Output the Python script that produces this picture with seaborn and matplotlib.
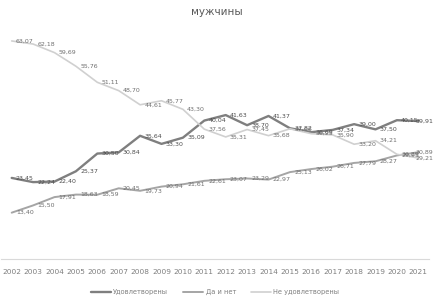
import matplotlib
matplotlib.use("Agg")
import matplotlib.pyplot as plt
import matplotlib.transforms as mtransforms
import seaborn as sns
import pandas as pd

years = [str(y) for y in range(2002, 2022)]
satisfied = [23.45, 22.24, 22.40, 25.37, 30.50, 30.84, 35.64, 33.30, 35.09, 40.04,
             41.63, 38.70, 41.37, 37.82, 36.69, 37.34, 39.00, 37.50, 40.15, 39.91]
mixed = [13.40, 15.50, 17.91, 18.63, 18.59, 20.45, 19.73, 20.94, 21.61, 22.61,
         23.07, 23.29, 22.97, 25.13, 26.02, 26.71, 27.79, 28.27, 29.95, 30.89]
unsatisfied = [63.07, 62.18, 59.69, 55.76, 51.11, 48.70, 44.61, 45.77, 43.30, 37.56,
               35.31, 37.45, 35.68, 37.66, 36.25, 35.90, 33.20, 34.21, 30.29, 29.21]
series_names = ["Удовлетворены", "Да и нет", "Не удовлетворены"]
title = "мужчины"

sns.set_theme(style="white")
plt.rcParams['font.family'] = ['DejaVu Sans']

rows = []
for name, vals in zip(series_names, [satisfied, mixed, unsatisfied]):
    for i, v in enumerate(vals):
        rows.append({"x": i, "year": years[i], "value": v, "series": name})
df = pd.DataFrame(rows)

colors = {"Удовлетворены": "#7f7f7f", "Да и нет": "#a5a5a5", "Не удовлетворены": "#d0d0d0"}
widths = {"Удовлетворены": 1.7, "Да и нет": 1.4, "Не удовлетворены": 1.2}
label_colors = {"Удовлетворены": "#4d4d4d", "Да и нет": "#6f6f6f", "Не удовлетворены": "#6f6f6f"}

fig = plt.figure(figsize=(4.34, 2.99), dpi=100)
ax = fig.add_axes([1/434, 1 - 259/299, 428/434, (259 - 17)/299])
edge_tr = mtransforms.blended_transform_factory(fig.transFigure, ax.transData)

for name in series_names:
    sub = df[df.series == name]
    sns.lineplot(data=sub, x="x", y="value", ax=ax, color=colors[name],
                 linewidth=widths[name], label=name)
    for _, r in sub.iterrows():
        txt = f"{r.value:.2f}".replace(".", ",")
        if r.x == 19:
            ax.text(433/434, r.value, txt, transform=edge_tr, fontsize=4.5,
                    color=label_colors[name], va="center", ha="right")
        else:
            ax.annotate(txt, (r.x, r.value),
                        xytext=(3, 0), textcoords="offset points", fontsize=4.5,
                        color=label_colors[name], va="center", ha="left")

ax.set_xlim(-0.5, 19.5)
ax.set_ylim(0, 70)
ax.set_xticks(range(20))
ax.set_xticklabels(years, fontsize=5.3, color="#7f7f7f")
ax.tick_params(axis="x", length=0, pad=7)
ax.set_yticks([])
ax.set_xlabel("")
ax.set_ylabel("")
for s in ["top", "left", "right"]:
    ax.spines[s].set_visible(False)
ax.spines["bottom"].set_color("#d9d9d9")
ax.spines["bottom"].set_linewidth(0.8)

leg = ax.legend(loc="upper center", bbox_to_anchor=(0.5, -0.1), ncol=3,
                frameon=False, fontsize=4.8, handlelength=3, columnspacing=2.2,
                handletextpad=0.4)
for t in leg.get_texts():
    t.set_color("#7f7f7f")

fig.text(0.5, 1 - 12/299, title, ha="center", va="center", fontsize=7.5, color="#595959")

fig.savefig("out.png", dpi=100)
